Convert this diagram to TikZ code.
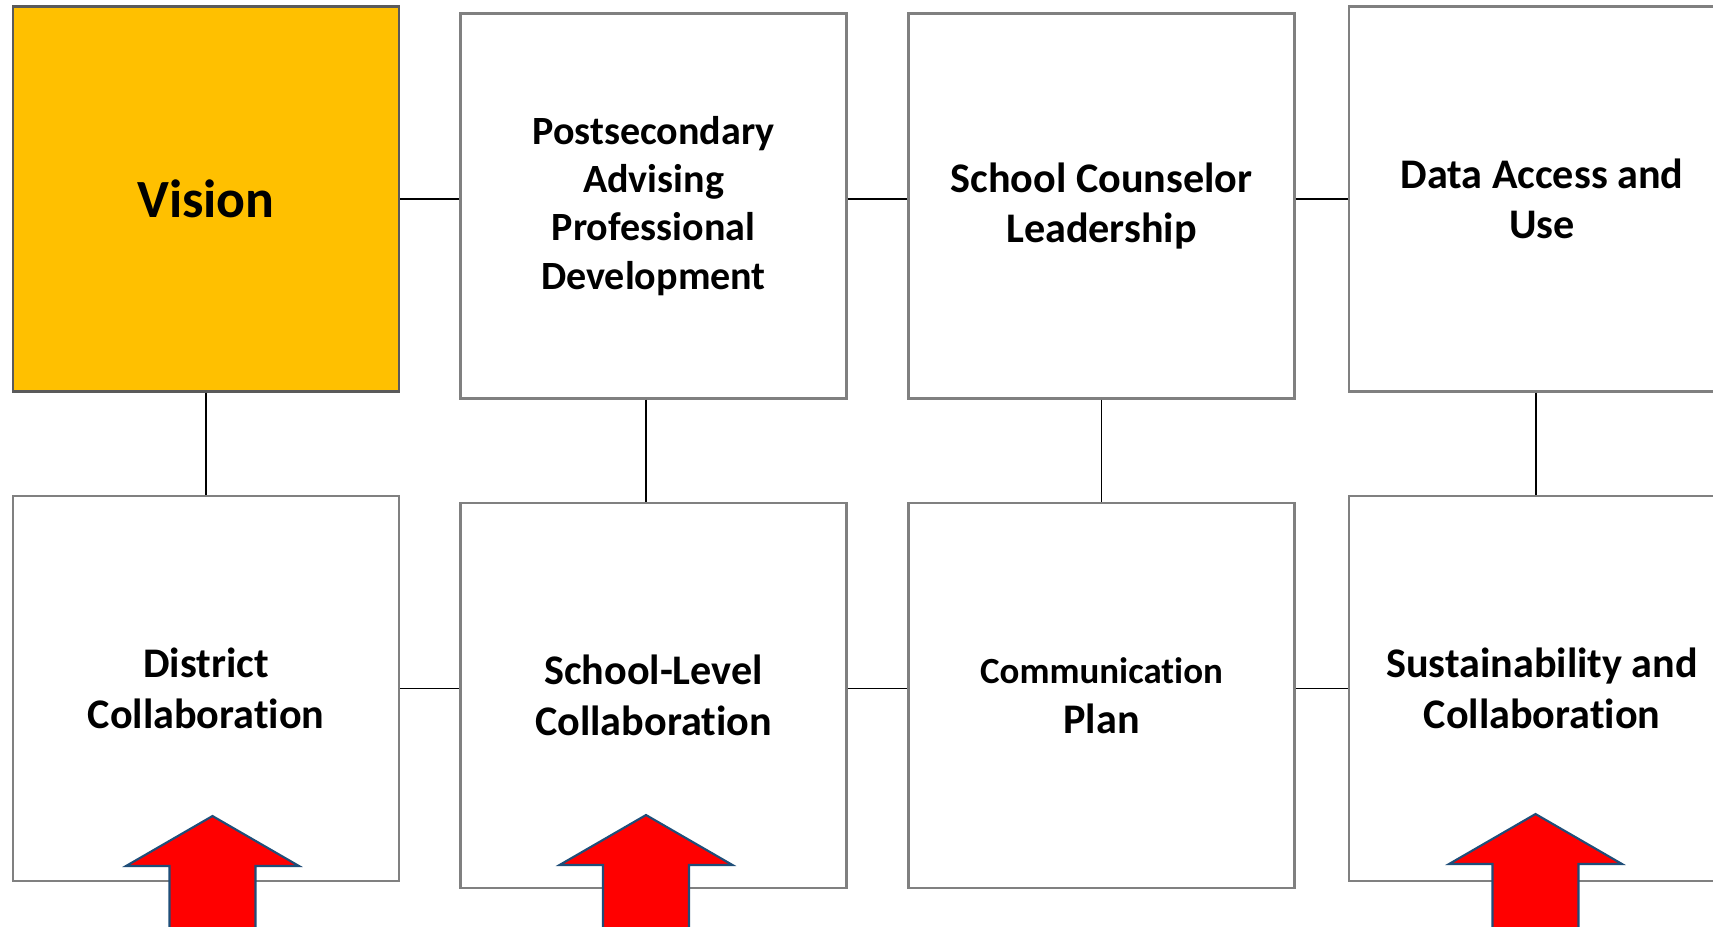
\documentclass[tikz,border=0pt]{standalone}
\usepackage{fontspec}
\setmainfont{Carlito}[Ligatures=NoCommon]
\usepackage{tikz}

\definecolor{visiongold}{RGB}{255,192,0}
\definecolor{boxgray}{RGB}{128,128,128}
\definecolor{arrowblue}{RGB}{31,78,121}

\tikzset{
  blockbox/.style={draw=boxgray, line width=0.6pt, fill=white,
    minimum width=3.86cm, minimum height=3.85cm, inner sep=0pt,
    align=center, font=\bfseries\fontsize{12}{14.4}\selectfont},
  visionbox/.style={blockbox, fill=visiongold, draw=boxgray!70!black,
    font=\bfseries\fontsize{15.3}{18}\selectfont},
  redarrow/.style={fill=red, draw=arrowblue, line width=0.6pt},
  link/.style={draw=black, line width=0.4pt}
}

\begin{document}
\begin{tikzpicture}
\useasboundingbox (0,0) rectangle (17.13,-9.26);
\clip (0,0) rectangle (17.13,-9.26);
% top row
\node[visionbox] (vision) at (2.06,-1.99) {Vision};
\node[blockbox, font=\bfseries\fontsize{11.4}{13.7}\selectfont] (papd) at (6.535,-2.06) {Postsecondary\\Advising\\Professional\\Development};
\node[blockbox] (scl) at (11.015,-2.06) {School Counselor\\Leadership};
\node[blockbox] (dau) at (15.42,-1.99) {Data Access and\\Use};
% bottom row
\node[blockbox] (district) at (2.06,-6.885) {District\\Collaboration};
\node[blockbox] (slc) at (6.535,-6.955) {School-Level\\Collaboration};
\node[blockbox] (comm) at (11.015,-6.955) {{\fontsize{10.5}{13}\selectfont Communication}\\Plan};
\node[blockbox] (sust) at (15.42,-6.885) {Sustainability and\\Collaboration};
% links
\draw[link] (vision.east) -- (vision.east -| papd.west);
\draw[link] (papd.east |- vision) -- (scl.west |- vision);
\draw[link] (scl.east |- vision) -- (dau.west);
\draw[link] (district.east) -- (district.east -| slc.west);
\draw[link] (slc.east |- district) -- (comm.west |- district);
\draw[link] (comm.east |- district) -- (sust.west);
\draw[link] (vision) -- (district);
\draw[link] ([xshift=-0.75mm]papd.south) -- ([xshift=-0.75mm]slc.north);
\draw[link] (scl) -- (comm);
\draw[link] ([xshift=-0.6mm]dau.south) -- ([xshift=-0.6mm]sust.north);
% arrows
\coordinate (tip1) at (2.125,-8.16);
\coordinate (tip2) at (6.46,-8.15);
\coordinate (tip3) at (15.355,-8.14);
\draw[redarrow] (tip1) -- ++(0.865,-0.5) -- ++(-0.435,0) -- ++(0,-1) -- ++(-0.86,0) -- ++(0,1) -- ++(-0.435,0) -- cycle;
\draw[redarrow] (tip2) -- ++(0.865,-0.5) -- ++(-0.435,0) -- ++(0,-1) -- ++(-0.86,0) -- ++(0,1) -- ++(-0.435,0) -- cycle;
\draw[redarrow] (tip3) -- ++(0.865,-0.5) -- ++(-0.435,0) -- ++(0,-1) -- ++(-0.86,0) -- ++(0,1) -- ++(-0.435,0) -- cycle;
\end{tikzpicture}
\end{document}
